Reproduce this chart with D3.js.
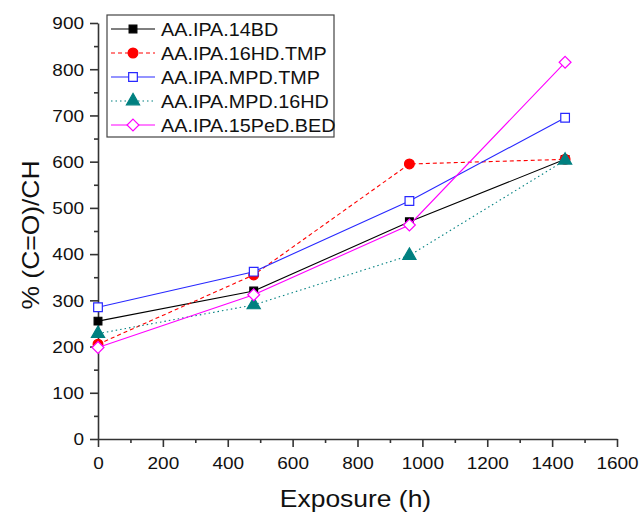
<!DOCTYPE html>
<html lang="en">
<head>
  <meta charset="UTF-8">
  <title>Carbonyl index vs exposure</title>
  <script src="https://d3js.org/d3.v7.min.js"></script>
  <style>
    body { margin: 0; background: white; font-family: Arial, "Liberation Sans", sans-serif; }
    svg { display: block; }
    text { font-family: Arial, "Liberation Sans", sans-serif; fill: #111; }
    .axis path, .axis line { stroke: #333; stroke-width: 1.6; }
  </style>
</head>
<body>
<svg width="642" height="515"></svg>
<script>
  // exposure times (h)
  const exposure = [0, 480, 960, 1440];

  const names = ["AA.IPA.14BD", "AA.IPA.16HD.TMP", "AA.IPA.MPD.TMP", "AA.IPA.MPD.16HD", "AA.IPA.15PeD.BED"];
  const v14BD    = [255, 320, 470, 605];
  const v16HDTMP = [205, 355, 595, 605];
  const vMPDTMP  = [285, 362, 515, 695];
  const vMPD16HD = [228, 290, 397, 603];
  const v15PeD   = [198, 312, 463, 815];

  const xTicks = [0, 200, 400, 600, 800, 1000, 1200, 1400, 1600];
  const yTicks = [0, 100, 200, 300, 400, 500, 600, 700, 800, 900];

  const series = [
    { name: names[0], values: v14BD,    color: "#000000", dash: null,    symbol: d3.symbolSquare,   fill: true,  size: 60 },
    { name: names[1], values: v16HDTMP, color: "#ff0000", dash: "4,3",   symbol: d3.symbolCircle,   fill: true,  size: 75 },
    { name: names[2], values: vMPDTMP,  color: "#2828ff", dash: null,    symbol: d3.symbolSquare,   fill: false, size: 75 },
    { name: names[3], values: vMPD16HD, color: "#008080", dash: "1.5,3", symbol: d3.symbolTriangle, fill: true,  size: 75 },
    { name: names[4], values: v15PeD,   color: "#ff00ff", dash: null,    symbol: d3.symbolDiamond2, fill: false, size: 90 }
  ];

  const svg = d3.select("svg");
  const stretch = 1.15; // the original text is a bit wider than Arial

  const x = d3.scaleLinear().domain([0, 1600]).range([98, 617]);
  const y = d3.scaleLinear().domain([0, 900]).range([439, 23]);

  // minor ticks
  svg.append("g")
    .attr("class", "axis")
    .attr("transform", `translate(0,${y(0)})`)
    .call(d3.axisBottom(x).tickValues(d3.range(100, 1600, 200)).tickSize(4).tickFormat(""))
    .select(".domain").remove();
  svg.append("g")
    .attr("class", "axis")
    .attr("transform", `translate(${x(0)},0)`)
    .call(d3.axisLeft(y).tickValues(d3.range(50, 900, 100)).tickSize(4).tickFormat(""))
    .select(".domain").remove();

  // major axes
  const xAxis = svg.append("g")
    .attr("class", "axis")
    .attr("transform", `translate(0,${y(0)})`)
    .call(d3.axisBottom(x).tickValues(xTicks).tickSize(8).tickSizeOuter(0).tickFormat(d3.format("d")));
  xAxis.selectAll("text")
    .attr("y", 0)
    .attr("dy", null)
    .attr("transform", `translate(0,30) scale(${stretch},1)`)
    .style("font-size", "16.5px");

  const yAxis = svg.append("g")
    .attr("class", "axis")
    .attr("transform", `translate(${x(0)},0)`)
    .call(d3.axisLeft(y).tickValues(yTicks).tickSize(8).tickSizeOuter(0).tickFormat(d3.format("d")));
  yAxis.selectAll("text")
    .attr("x", 0)
    .attr("dy", "0.35em")
    .attr("transform", `translate(-14,0) scale(${stretch},1)`)
    .style("font-size", "16.5px");

  // axis titles
  svg.append("text")
    .attr("transform", `translate(${x(800) - 2},507) scale(${stretch},1)`)
    .attr("text-anchor", "middle")
    .style("font-size", "23px")
    .text("Exposure (h)");
  svg.append("text")
    .attr("transform", `translate(39,${y(450) + 4}) rotate(-90) scale(${stretch},1)`)
    .attr("text-anchor", "middle")
    .style("font-size", "23px")
    .text("% (C=O)/CH");

  const line = d3.line()
    .x((d, i) => x(exposure[i]))
    .y(d => y(d));

  series.forEach(s => {
    const g = svg.append("g");
    g.append("path")
      .datum(s.values)
      .attr("fill", "none")
      .attr("stroke", s.color)
      .attr("stroke-width", 1.1)
      .attr("stroke-dasharray", s.dash)
      .attr("d", line);
    g.selectAll("path.pt")
      .data(s.values)
      .join("path")
      .attr("class", "pt")
      .attr("transform", (d, i) => `translate(${x(exposure[i])},${y(d)})`)
      .attr("d", d3.symbol().type(s.symbol).size(s.size))
      .attr("fill", s.fill ? s.color : "white")
      .attr("stroke", s.color)
      .attr("stroke-width", 1.2);
  });

  // legend
  const legend = svg.append("g").attr("transform", "translate(107,15)");
  legend.append("rect")
    .attr("width", 227).attr("height", 122)
    .attr("fill", "white").attr("stroke", "#444").attr("stroke-width", 1.2);
  series.forEach((s, i) => {
    const ly = 14 + i * 24;
    legend.append("line")
      .attr("x1", 4).attr("x2", 48).attr("y1", ly).attr("y2", ly)
      .attr("stroke", s.color).attr("stroke-width", 1.1)
      .attr("stroke-dasharray", s.dash);
    legend.append("path")
      .attr("transform", `translate(26,${ly})`)
      .attr("d", d3.symbol().type(s.symbol).size(s.size))
      .attr("fill", s.fill ? s.color : "white")
      .attr("stroke", s.color)
      .attr("stroke-width", 1.2);
    legend.append("text")
      .attr("transform", `translate(54,${ly + 6.5}) scale(1.1,1)`)
      .style("font-size", "18px")
      .text(s.name);
  });
</script>
</body>
</html>
